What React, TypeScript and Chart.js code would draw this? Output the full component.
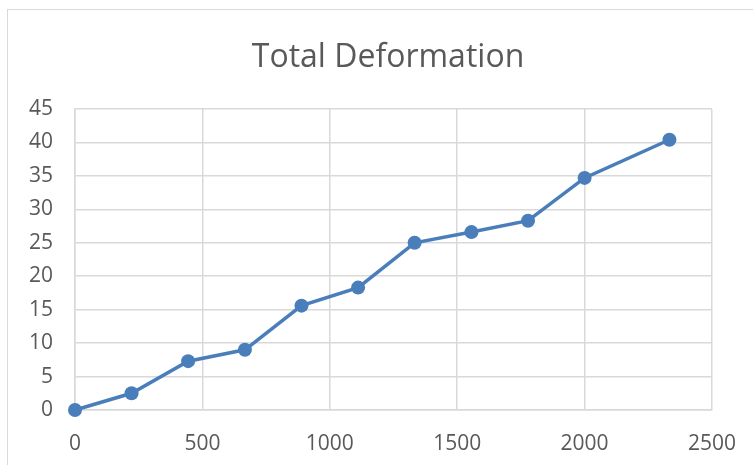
import React, { useEffect, useRef } from "react";
import { Chart, registerables } from "chart.js";

Chart.register(...registerables);

const chartTitle = "Total Deformation";
const xValues = [0, 222, 444, 667, 889, 1111, 1333, 1556, 1778, 2000, 2333];
const yValues = [0, 2.5, 7.3, 9.0, 15.6, 18.3, 25.0, 26.6, 28.3, 34.7, 40.4];
const xTicks = { min: 0, max: 2500, step: 500 };
const yTicks = { min: 0, max: 45, step: 5 };

const TEXT = "#595959";
const GRID = "#d9d9d9";
const LINE = "#4a7ebb";
const FONT = "'Open Sans', 'Liberation Sans', sans-serif";

export default function App() {
  const ref = useRef<HTMLCanvasElement | null>(null);

  useEffect(() => {
    document.body.style.margin = "0";
    document.body.style.overflow = "hidden";
    const canvas = ref.current;
    if (!canvas) return;
    const points = xValues.map((x, i) => ({ x, y: yValues[i] }));
    const chart = new Chart(canvas, {
      type: "line",
      data: {
        datasets: [
          {
            data: points,
            borderColor: LINE,
            backgroundColor: LINE,
            borderWidth: 3.5,
            pointRadius: 7,
            pointHoverRadius: 7,
            pointBackgroundColor: LINE,
            pointBorderColor: LINE,
            pointBorderWidth: 0,
            tension: 0,
            fill: false,
            clip: false,
          } as any,
        ],
      },
      options: {
        responsive: false,
        animation: false,
        layout: { padding: { left: 0, right: 24, top: 0, bottom: 0 } },
        plugins: {
          legend: { display: false },
          tooltip: { enabled: false },
          title: {
            display: true,
            text: chartTitle,
            color: TEXT,
            font: { family: FONT, size: 32, weight: "normal", lineHeight: 1.2 },
            padding: { top: 38.8, bottom: 31.8 },
          },
        },
        scales: {
          x: {
            type: "linear",
            min: xTicks.min,
            max: xTicks.max,
            afterFit: (s: any) => {
              s.height = 465 - 410;
            },
            ticks: {
              stepSize: xTicks.step,
              color: TEXT,
              font: { family: FONT, size: 21 },
              padding: 21.5,
              maxRotation: 0,
              callback: (v: any) => String(v),
            },
            grid: { color: GRID, lineWidth: 1.5, drawTicks: false },
            border: { color: GRID, width: 1.5 },
          },
          y: {
            type: "linear",
            min: yTicks.min,
            max: yTicks.max,
            afterFit: (s: any) => {
              s.width = 75;
            },
            ticks: {
              stepSize: yTicks.step,
              color: TEXT,
              font: { family: FONT, size: 21 },
              padding: 22,
              callback: (v: any) => String(v),
            },
            grid: { color: GRID, lineWidth: 1.5, drawTicks: false },
            border: { color: GRID, width: 1.5 },
          },
          spacer: {
            type: "linear",
            position: "right",
            display: true,
            afterFit: (s: any) => {
              s.width = 64;
            },
            ticks: { display: false },
            grid: { display: false, drawTicks: false },
            border: { display: false },
          },
        },
      },
    });
    return () => chart.destroy();
  }, []);

  return (
    <div
      style={{
        position: "fixed",
        left: 0,
        top: 0,
        width: 753,
        height: 465,
        background: "#fff",
        overflow: "hidden",
      }}
    >
      <div
        style={{
          position: "absolute",
          left: 7,
          top: 9,
          width: 800,
          height: 500,
          border: "1.5px solid #d9d9d9",
        }}
      />
      <canvas ref={ref} width={800} height={465} style={{ position: "absolute", left: 0, top: 0 }} />
    </div>
  );
}
